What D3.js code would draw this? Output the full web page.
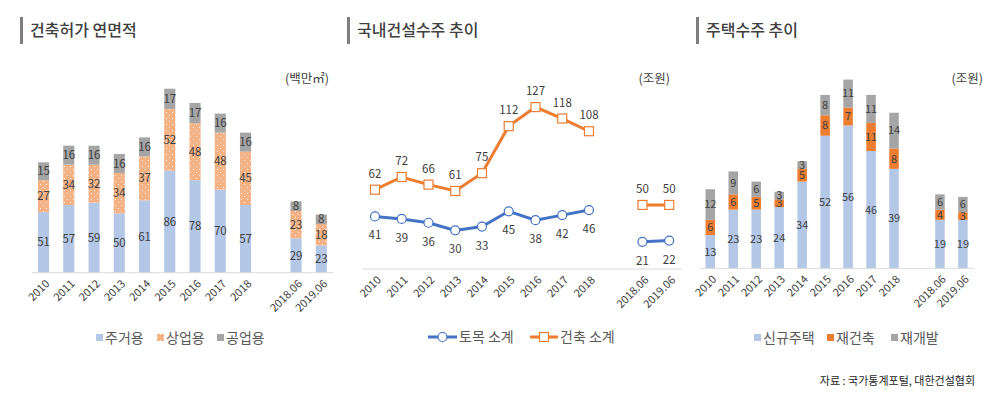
<!DOCTYPE html>
<html>
<head>
<meta charset="utf-8">
<script src="https://cdn.jsdelivr.net/npm/d3@7"></script>
<style>
  body { margin: 0; background: #fff; }
  svg { font-family: 'Noto Sans CJK KR', 'Noto Sans', sans-serif; }
</style>
</head>
<body>
<div id="svg"></div>
<script>
// categories (with one blank slot between annual and half-year values)
const categories = ['2010', '2011', '2012', '2013', '2014', '2015', '2016', '2017', '2018', '', '2018.06', '2019.06'];
const realCats = categories.filter(c => c !== '');

// 건축허가 연면적 (백만㎡)
const permitKeys = ['주거용', '상업용', '공업용'];
const permitResidential = [51, 57, 59, 50, 61, 86, 78, 70, 57, 29, 23];
const permitCommercial = [27, 34, 32, 34, 37, 52, 48, 48, 45, 23, 18];
const permitIndustrial = [15, 16, 16, 16, 16, 17, 17, 16, 16, 8, 8];

// 국내건설수주 (조원)
const civilTotal = [41, 39, 36, 30, 33, 45, 38, 42, 46, 21, 22];
const buildingTotal = [62, 72, 66, 61, 75, 112, 127, 118, 108, 50, 50];

// 주택수주 (조원)
const housingKeys = ['신규주택', '재건축', '재개발'];
const housingNew = [13, 23, 23, 24, 34, 52, 56, 46, 39, 19, 19];
const housingRebuild = [6, 6, 5, 3, 5, 8, 7, 11, 8, 4, 3];
const housingRedev = [12, 9, 6, 3, 3, 8, 11, 11, 14, 6, 6];

const textColor = '#404040';
const axisColor = '#d9d9d9';

const svg = d3.select('div#svg').append('svg')
  .attr('width', 1000).attr('height', 399);

const defs = svg.append('defs');
const pat = defs.append('pattern')
  .attr('id', 'dots').attr('patternUnits', 'userSpaceOnUse')
  .attr('width', 6).attr('height', 6);
pat.append('rect').attr('width', 6).attr('height', 6).attr('fill', '#f4b183');
pat.append('circle').attr('cx', 1.5).attr('cy', 1.5).attr('r', 0.55).attr('fill', '#fff');
pat.append('circle').attr('cx', 4.5).attr('cy', 4.5).attr('r', 0.55).attr('fill', '#fff');

function title(x, text) {
  svg.append('rect').attr('x', x).attr('y', 17).attr('width', 3).attr('height', 27).attr('fill', '#7f7f7f');
  svg.append('text').attr('x', x + 10).attr('y', 36)
    .attr('font-size', 16).attr('font-weight', 500).attr('fill', textColor).text(text);
}

function unit(xEnd, text) {
  svg.append('text').attr('x', xEnd).attr('y', 83).attr('text-anchor', 'end')
    .attr('font-size', 12.5).attr('fill', textColor).text(text);
}

function xAxis(x, y0) {
  const [a, b] = x.range();
  svg.append('line').attr('x1', a + 1).attr('x2', b - 1).attr('y1', y0).attr('y2', y0)
    .attr('stroke', axisColor).attr('stroke-width', 1);
  svg.append('g').selectAll('text').data(realCats).enter().append('text')
    .attr('transform', d => 'translate(' + (x(d) + x.bandwidth() / 2 + 4) + ',' + (y0 + 9) + ') rotate(-45)')
    .attr('text-anchor', 'end').attr('dy', '0.35em')
    .attr('font-size', 11).attr('fill', textColor).text(d => d);
}

function stacked(x, y, rows, keys, colors, fs) {
  const series = d3.stack().keys(keys)(rows);
  const g = svg.append('g');
  series.forEach((s, si) => {
    g.append('g').selectAll('rect').data(s).enter().append('rect')
      .attr('x', d => x(d.data.cat))
      .attr('y', d => y(d[1]))
      .attr('width', x.bandwidth())
      .attr('height', d => y(d[0]) - y(d[1]))
      .attr('fill', colors[si]);
    g.append('g').selectAll('text').data(s).enter().append('text')
      .attr('x', d => x(d.data.cat) + x.bandwidth() / 2)
      .attr('y', d => (y(d[0]) + y(d[1])) / 2)
      .attr('dy', '0.35em').attr('text-anchor', 'middle')
      .attr('font-size', fs).attr('fill', textColor)
      .text(d => d[1] - d[0]);
  });
}

function legendBoxes(items, y0) {
  const g = svg.append('g');
  items.forEach(it => {
    g.append('rect').attr('x', it.x).attr('y', y0 - 4).attr('width', 7).attr('height', 7).attr('fill', it.color);
    g.append('text').attr('x', it.x + 9).attr('y', y0).attr('dy', '0.35em')
      .attr('font-size', 14).attr('fill', '#595959').text(it.label);
  });
}

// ---- chart 1: 건축허가 연면적
title(20, '건축허가 연면적');
unit(329, '(백만㎡)');
{
  const x = d3.scaleBand().domain(categories).range([30.9, 333.9]).paddingInner(0.56).paddingOuter(0.28);
  const y = d3.scaleLinear().domain([0, 160]).range([272.7, 272.7 - 160 * 1.187]);
  const rows = realCats.map((c, i) => ({
    cat: c, '주거용': permitResidential[i], '상업용': permitCommercial[i], '공업용': permitIndustrial[i]
  }));
  stacked(x, y, rows, permitKeys, ['#b4c7e7', 'url(#dots)', '#a5a5a5'], 11.5);
  xAxis(x, 272.7);
  legendBoxes([
    { x: 96, label: '주거용', color: '#b4c7e7' },
    { x: 157, label: '상업용', color: 'url(#dots)' },
    { x: 217, label: '공업용', color: '#a5a5a5' }
  ], 338);
}

// ---- chart 2: 국내건설수주 추이
title(347, '국내건설수주 추이');
unit(670, '(조원)');
{
  const x = d3.scaleBand().domain(categories).range([361.6, 682.6]);
  const y = d3.scaleLinear().domain([0, 140]).range([268.5, 268.5 - 140 * 1.271]);
  const cx = c => x(c) + x.bandwidth() / 2;
  const line = d3.line().defined(d => d.v != null).x(d => cx(d.cat)).y(d => y(d.v));
  const withGap = vals => categories.map(c => ({ cat: c, v: c === '' ? null : vals[realCats.indexOf(c)] }));

  xAxis(x, 269);

  const civil = withGap(civilTotal);
  const build = withGap(buildingTotal);
  svg.append('path').datum(civil).attr('d', line).attr('fill', 'none')
    .attr('stroke', '#4472c4').attr('stroke-width', 3);
  svg.append('path').datum(build).attr('d', line).attr('fill', 'none')
    .attr('stroke', '#ed7d31').attr('stroke-width', 3);

  const cData = civil.filter(d => d.v != null);
  const bData = build.filter(d => d.v != null);
  svg.append('g').selectAll('circle').data(cData).enter().append('circle')
    .attr('cx', d => cx(d.cat)).attr('cy', d => y(d.v)).attr('r', 4.5)
    .attr('fill', '#fff').attr('stroke', '#4472c4').attr('stroke-width', 1.2);
  svg.append('g').selectAll('rect').data(bData).enter().append('rect')
    .attr('x', d => cx(d.cat) - 4.5).attr('y', d => y(d.v) - 4.5)
    .attr('width', 9).attr('height', 9)
    .attr('fill', '#fff').attr('stroke', '#ed7d31').attr('stroke-width', 1.2);

  svg.append('g').selectAll('text').data(cData).enter().append('text')
    .attr('x', d => cx(d.cat)).attr('y', d => y(d.v) + 19).attr('dy', '0.35em')
    .attr('text-anchor', 'middle').attr('font-size', 11.5).attr('fill', textColor).text(d => d.v);
  svg.append('g').selectAll('text').data(bData).enter().append('text')
    .attr('x', d => cx(d.cat)).attr('y', d => y(d.v) - 16).attr('dy', '0.35em')
    .attr('text-anchor', 'middle').attr('font-size', 11.5).attr('fill', textColor).text(d => d.v);

  // legend
  const lg = svg.append('g');
  lg.append('line').attr('x1', 428).attr('x2', 457).attr('y1', 337).attr('y2', 337)
    .attr('stroke', '#4472c4').attr('stroke-width', 3);
  lg.append('circle').attr('cx', 442.5).attr('cy', 337).attr('r', 4.5)
    .attr('fill', '#fff').attr('stroke', '#4472c4').attr('stroke-width', 1.2);
  lg.append('text').attr('x', 459).attr('y', 337).attr('dy', '0.35em')
    .attr('font-size', 14).attr('fill', '#595959').text('토목 소계');
  lg.append('line').attr('x1', 530).attr('x2', 558).attr('y1', 337).attr('y2', 337)
    .attr('stroke', '#ed7d31').attr('stroke-width', 3);
  lg.append('rect').attr('x', 539.5).attr('y', 332.5).attr('width', 9).attr('height', 9)
    .attr('fill', '#fff').attr('stroke', '#ed7d31').attr('stroke-width', 1.2);
  lg.append('text').attr('x', 560).attr('y', 337).attr('dy', '0.35em')
    .attr('font-size', 14).attr('fill', '#595959').text('건축 소계');
}

// ---- chart 3: 주택수주 추이
title(696, '주택수주 추이');
unit(983, '(조원)');
{
  const x = d3.scaleBand().domain(categories).range([698.8, 974.4]).paddingInner(0.586).paddingOuter(0.293);
  const y = d3.scaleLinear().domain([0, 80]).range([268.3, 268.3 - 80 * 2.55]);
  const rows = realCats.map((c, i) => ({
    cat: c, '신규주택': housingNew[i], '재건축': housingRebuild[i], '재개발': housingRedev[i]
  }));
  stacked(x, y, rows, housingKeys, ['#b4c7e7', '#ed7d31', '#a5a5a5'], 11);
  xAxis(x, 268.3);
  legendBoxes([
    { x: 754, label: '신규주택', color: '#b4c7e7' },
    { x: 827, label: '재건축', color: '#ed7d31' },
    { x: 891, label: '재개발', color: '#a5a5a5' }
  ], 338);
}

svg.append('text').attr('x', 975).attr('y', 381).attr('dy', '0.35em').attr('text-anchor', 'end')
  .attr('font-size', 11).attr('fill', '#262626').text('자료 : 국가통계포털, 대한건설협회');
</script>
</body>
</html>
